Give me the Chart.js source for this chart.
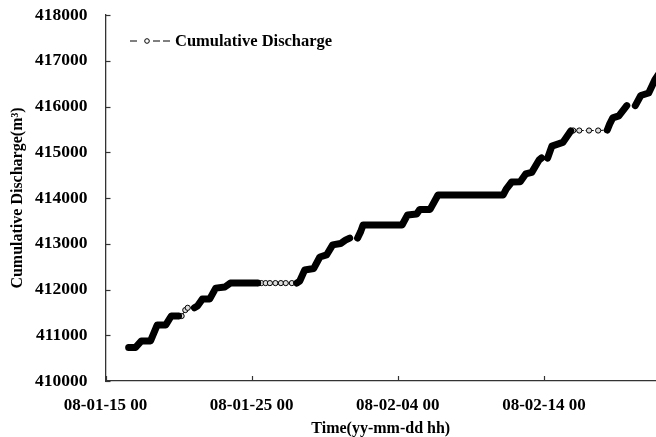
<!DOCTYPE html>
<html>
<head>
<meta charset="utf-8">
<script src="https://cdn.jsdelivr.net/npm/chart.js@4/dist/chart.umd.min.js"></script>
<style>
    html, body { margin: 0; padding: 0; background: #fff; }
    #wrap { width: 656px; height: 437px; }
</style>
</head>
<body>
<div id="wrap"><canvas id="chart" width="656" height="437"></canvas></div>
<script>
// x values are hours after 08-01-15 00
const tickHours = [0, 240, 480, 720];
const tickLabels = ['08-01-15 00', '08-01-25 00', '08-02-04 00', '08-02-14 00'];

// densely logged readings (null = missing data)
const denseHours = [38, 49, 59, 74, 85, 99, 108, 120,
    133,
    146, 151, 159, 171, 181, 196, 205, 250,
    282,
    314, 319, 327, 342, 352, 363, 373, 386, 394, 401,
    408,
    414, 419, 423, 487, 496, 511, 516, 533, 546, 653, 658, 667, 681, 690, 700, 712, 716,
    721,
    726, 733, 751, 764,
    794,
    824, 828, 833, 843, 856,
    863,
    870, 879, 892, 902, 908];
const denseValues = [410730, 410730, 410875, 410875, 411225, 411225, 411420, 411420,
    null,
    411600, 411640, 411790, 411790, 412030, 412055, 412140, 412140,
    null,
    412140, 412185, 412425, 412460, 412710, 412755, 412975, 413005, 413080, 413125,
    null,
    413125, 413265, 413410, 413410, 413630, 413650, 413750, 413750, 414065, 414065, 414195, 414350, 414355, 414525, 414560, 414830, 414875,
    null,
    414870, 415135, 415215, 415465,
    null,
    415485, 415620, 415750, 415795, 416020,
    null,
    416020, 416240, 416295, 416580, 416700];

// sparsely logged readings, drawn as single markers
const sparseHours = [120, 125, 131, 135, 146,
    200,
    250, 256, 263, 270, 279, 288, 296, 306, 314,
    408,
    414,
    500,
    716,
    740,
    764, 768, 778, 794, 809, 824];
const sparseValues = [411420, 411420, 411550, 411600, 411600,
    null,
    412140, 412140, 412140, 412140, 412140, 412140, 412140, 412140, 412140,
    null,
    413125,
    null,
    414875,
    null,
    415465, 415475, 415475, 415475, 415475, 415485];

const seriesName = 'Cumulative Discharge';
const yTitle = 'Cumulative Discharge(m\u00B3)';
const xTitle = 'Time(yy-mm-dd hh)';

const FONT = '"Liberation Serif", "Times New Roman", serif';

const toPoints = (xs, ys) => xs.map((x, i) => ({ x: x, y: ys[i] }));

// inward tick marks + legend drawn like the original figure
const figureExtras = {
    id: 'figureExtras',
    afterDraw(chart) {
        const ctx = chart.ctx;
        const xs = chart.scales.x;
        const ys = chart.scales.y;
        const area = chart.chartArea;
        ctx.save();
        ctx.strokeStyle = '#333';
        ctx.lineWidth = 1.2;
        xs.ticks.forEach(t => {
            const px = Math.round(xs.getPixelForValue(t.value)) + 0.5;
            ctx.beginPath();
            ctx.moveTo(px, area.bottom);
            ctx.lineTo(px, area.bottom - 5);
            ctx.stroke();
        });
        ys.ticks.forEach(t => {
            const py = Math.round(ys.getPixelForValue(t.value)) + 0.5;
            ctx.beginPath();
            ctx.moveTo(area.left, py);
            ctx.lineTo(area.left + 5, py);
            ctx.stroke();
        });

        // legend
        const ly = 41;
        ctx.strokeStyle = '#000';
        ctx.lineWidth = 1;
        ctx.beginPath();
        ctx.moveTo(130, ly); ctx.lineTo(137, ly);
        ctx.moveTo(153, ly); ctx.lineTo(160, ly);
        ctx.moveTo(163, ly); ctx.lineTo(170, ly);
        ctx.stroke();
        ctx.beginPath();
        ctx.arc(147, ly, 2.3, 0, Math.PI * 2);
        ctx.fillStyle = '#fff';
        ctx.fill();
        ctx.stroke();
        ctx.fillStyle = '#000';
        ctx.font = 'bold 16.5px ' + FONT;
        ctx.textBaseline = 'middle';
        ctx.textAlign = 'left';
        ctx.fillText(seriesName, 175, ly + 1);
        ctx.restore();
    }
};

new Chart(document.getElementById('chart').getContext('2d'), {
    type: 'line',
    data: {
        datasets: [
            {
                label: seriesName,
                data: toPoints(denseHours, denseValues),
                borderColor: '#000',
                backgroundColor: '#000',
                borderWidth: 7,
                borderCapStyle: 'round',
                borderJoinStyle: 'round',
                pointRadius: 0,
                spanGaps: false,
                tension: 0
            },
            {
                label: seriesName + ' (sparse)',
                data: toPoints(sparseHours, sparseValues),
                borderColor: '#000',
                borderWidth: 1,
                borderDash: [3, 2],
                pointRadius: 2.6,
                pointBorderWidth: 1,
                pointBorderColor: '#000',
                pointBackgroundColor: '#ddd',
                spanGaps: false,
                tension: 0
            }
        ]
    },
    options: {
        responsive: false,
        animation: false,
        events: [],
        layout: { autoPadding: false, padding: { top: 15, right: 0, left: 0, bottom: 0 } },
        plugins: {
            legend: { display: false },
            tooltip: { enabled: false }
        },
        scales: {
            x: {
                type: 'linear',
                min: 0,
                max: 904,
                grid: { display: false, drawTicks: false },
                border: { display: true, color: '#333', width: 1.3 },
                afterBuildTicks: s => { s.ticks = tickHours.map(v => ({ value: v })); },
                ticks: {
                    autoSkip: false,
                    maxRotation: 0,
                    padding: 14,
                    color: '#000',
                    font: { family: FONT, size: 17, weight: 'bold' },
                    callback: (v, i) => tickLabels[i] ?? ''
                },
                title: {
                    display: true,
                    text: xTitle,
                    color: '#000',
                    font: { family: FONT, size: 16, weight: 'bold', lineHeight: 1 },
                    padding: { top: 0, bottom: 0 }
                },
                afterFit: s => {
                    s.height = 56;
                    s.paddingLeft = 0;
                    s.paddingRight = 0;
                }
            },
            y: {
                min: 410000,
                max: 418000,
                grid: { display: false, drawTicks: false },
                border: { display: true, color: '#333', width: 1.3 },
                ticks: {
                    stepSize: 1000,
                    padding: 18,
                    color: '#000',
                    font: { family: FONT, size: 17.5, weight: 'bold' },
                    callback: v => String(v)
                },
                title: {
                    display: true,
                    text: yTitle,
                    color: '#000',
                    font: { family: FONT, size: 16, weight: 'bold', lineHeight: 1 },
                    padding: { top: 10, bottom: 0 }
                },
                afterFit: s => {
                    s.width = 105.5;
                    s.paddingTop = 0;
                    s.paddingBottom = 0;
                }
            }
        }
    },
    plugins: [figureExtras]
});
</script>
</body>
</html>
